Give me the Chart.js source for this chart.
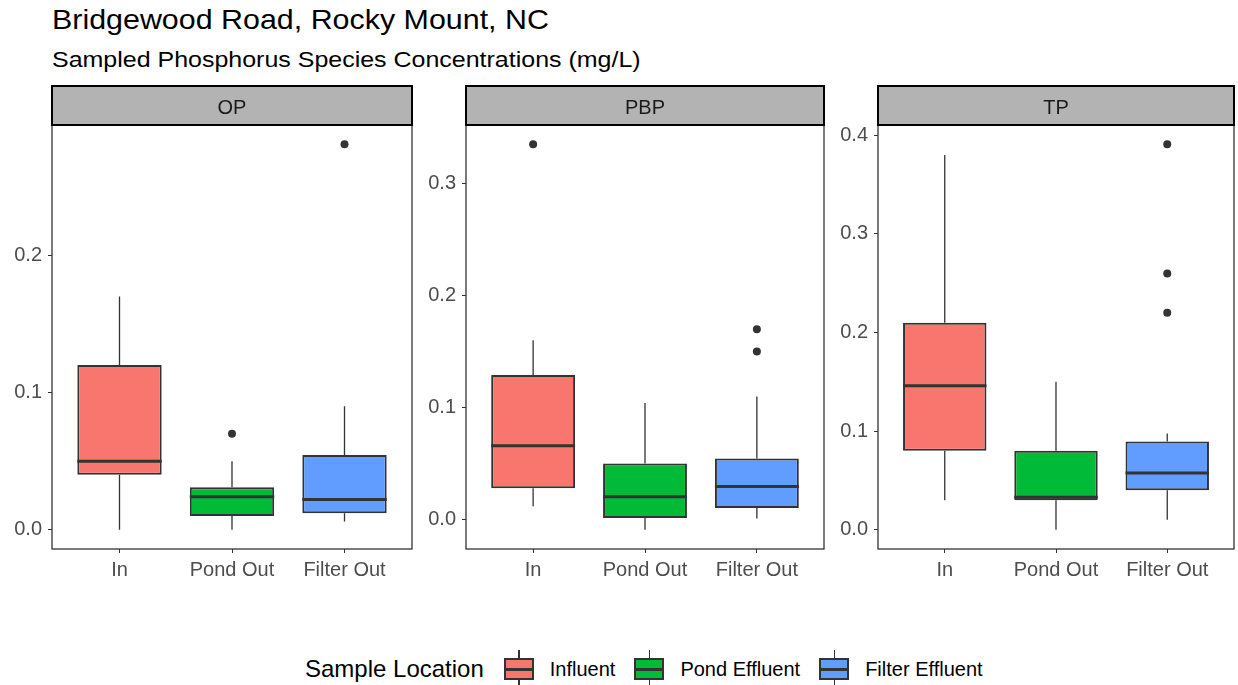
<!DOCTYPE html>
<html>
<head>
<meta charset="utf-8">
<title>Bridgewood Road, Rocky Mount, NC</title>
<script src="https://cdn.jsdelivr.net/npm/chart.js@4.4.1/dist/chart.umd.min.js"></script>
<style>
    body { margin: 0; width: 1238px; height: 685px; background: #fff; position: relative; overflow: hidden;
           font-family: "Liberation Sans", Arial, sans-serif; }
    .txt { position: absolute; line-height: 1; white-space: nowrap; color: #000; transform-origin: left top; }
    #title { left: 52px; top: 5.6px; font-size: 28px; transform: scaleX(1.086); }
    #subtitle { left: 52px; top: 49.3px; font-size: 22.5px; transform: scaleX(1.11); }
    canvas { position: absolute; top: 85px; }
    #legend { position: absolute; left: 305px; top: 650px; height: 38px; display: flex; align-items: center;
              white-space: nowrap; line-height: 1; color: #000; }
    .lg-title { font-size: 24px; margin-right: 20px; }
    .lg-key { position: relative; width: 30px; height: 38px; margin-right: 16px; }
    .lg-key .whisker { position: absolute; left: 14.5px; top: 0; width: 1.3px; height: 38px; background: #333; }
    .lg-key .box { position: absolute; left: 0; top: 8px; width: 30px; height: 22px; box-sizing: border-box; border: 2px solid #333; }
    .lg-key .med { position: absolute; left: 0; top: 17.5px; width: 30px; height: 3px; background: #333; }
    .lg-label { font-size: 20px; margin-right: 19px; }
</style>
</head>
<body>
<div class="txt" id="title">Bridgewood Road, Rocky Mount, NC</div>
<div class="txt" id="subtitle">Sampled Phosphorus Species Concentrations (mg/L)</div>
<canvas id="panel0" width="416" height="505" style="left:0px"></canvas>
<canvas id="panel1" width="414" height="505" style="left:414px"></canvas>
<canvas id="panel2" width="412" height="505" style="left:826px"></canvas>
<div id="legend"><span class="lg-title">Sample Location</span></div>

<script>
// Categories and facets
const categories = ['In', 'Pond Out', 'Filter Out'];
const panelNames = ['OP', 'PBP', 'TP'];
const seriesNames = ['Influent', 'Pond Effluent', 'Filter Effluent'];
const fillColors = ['#F8766D', '#00BA38', '#619CFF'];

// Box statistics, one row per facet (OP, PBP, TP), one value per category
const lowerWhisker = [[0.0, 0.0, 0.006], [0.012, -0.009, 0.001], [0.03, 0.0, 0.01]];
const q1Values     = [[0.04, 0.01, 0.012], [0.028, 0.0015, 0.0105], [0.08, 0.03, 0.04]];
const medianValues = [[0.05, 0.024, 0.022], [0.066, 0.0205, 0.0295], [0.146, 0.033, 0.0575]];
const q3Values     = [[0.12, 0.031, 0.0545], [0.129, 0.05, 0.0545], [0.21, 0.08, 0.0895]];
const upperWhisker = [[0.17, 0.05, 0.09], [0.16, 0.104, 0.11], [0.38, 0.15, 0.0975]];

// Outliers as [category index, value]
const outliers = [
    [[1, 0.07], [2, 0.281]],
    [[0, 0.335], [2, 0.17], [2, 0.15]],
    [[2, 0.391], [2, 0.26], [2, 0.22]]
];

// Y tick values per facet
const yTicks = [[0, 0.1, 0.2], [0, 0.1, 0.2, 0.3], [0, 0.1, 0.2, 0.3, 0.4]];

const fontFamily = '"Liberation Sans", Arial, sans-serif';
const padRight = [3, 3, 1];

// ggplot-style 5% expansion of the data range
function yRange(p) {
    const vals = [...lowerWhisker[p], ...upperWhisker[p], ...outliers[p].map(o => o[1])];
    const lo = Math.min(...vals);
    const hi = Math.max(...vals);
    const pad = (hi - lo) * 0.05;
    return [lo - pad, hi + pad];
}

// Panel border, whiskers, medians and the facet strip
function boxPartsPlugin(p) {
    return {
        id: 'boxParts' + p,
        beforeDatasetsDraw(chart) {
            const { ctx, chartArea: a, scales: { x, y } } = chart;
            ctx.save();
            ctx.strokeStyle = '#333333';
            ctx.lineWidth = 1.3;
            ctx.strokeRect(a.left, a.top, a.right - a.left, a.bottom - a.top);
            ctx.lineWidth = 1.3;
            categories.forEach((c, i) => {
                const px = x.getPixelForValue(i);
                ctx.beginPath();
                ctx.moveTo(px, y.getPixelForValue(q3Values[p][i]));
                ctx.lineTo(px, y.getPixelForValue(upperWhisker[p][i]));
                ctx.moveTo(px, y.getPixelForValue(q1Values[p][i]));
                ctx.lineTo(px, y.getPixelForValue(lowerWhisker[p][i]));
                ctx.stroke();
            });
            ctx.restore();
        },
        afterDatasetsDraw(chart) {
            const { ctx, scales: { y } } = chart;
            const meta = chart.getDatasetMeta(0);
            ctx.save();
            ctx.strokeStyle = '#333333';
            ctx.lineWidth = 3;
            meta.data.forEach((bar, i) => {
                const { x: bx, width } = bar.getProps(['x', 'width'], true);
                const py = y.getPixelForValue(medianValues[p][i]);
                ctx.beginPath();
                ctx.moveTo(bx - width / 2, py);
                ctx.lineTo(bx + width / 2, py);
                ctx.stroke();
            });
            ctx.restore();
        },
        afterDraw(chart) {
            const { ctx, chartArea: a } = chart;
            ctx.save();
            ctx.fillStyle = '#B3B3B3';
            ctx.fillRect(a.left, 1, a.right - a.left, a.top - 1);
            ctx.strokeStyle = '#000000';
            ctx.lineWidth = 2;
            ctx.strokeRect(a.left, 1, a.right - a.left, a.top - 1);
            ctx.fillStyle = '#1A1A1A';
            ctx.font = '20px ' + fontFamily;
            ctx.textAlign = 'center';
            ctx.textBaseline = 'middle';
            ctx.fillText(panelNames[p], (a.left + a.right) / 2, 23);
            ctx.restore();
        }
    };
}

function buildPanel(p) {
    const [yMin, yMax] = yRange(p);
    const boxes = categories.map((c, i) => ({ x: i, y: [q1Values[p][i], q3Values[p][i]] }));
    const points = outliers[p].map(o => ({ x: o[0], y: o[1] }));
    const gridOpts = { drawOnChartArea: false, drawTicks: true, tickLength: 4, color: '#333333', lineWidth: 1, offset: false };

    return new Chart(document.getElementById('panel' + p), {
        type: 'bar',
        data: {
            datasets: [
                {
                    type: 'bar',
                    data: boxes,
                    backgroundColor: fillColors,
                    borderColor: '#333333',
                    borderWidth: 2,
                    borderSkipped: false,
                    barPercentage: 0.75,
                    categoryPercentage: 1
                },
                {
                    type: 'scatter',
                    data: points,
                    pointRadius: 4,
                    backgroundColor: '#333333',
                    pointBackgroundColor: '#333333',
                    pointBorderWidth: 0
                }
            ]
        },
        options: {
            responsive: false,
            animation: false,
            devicePixelRatio: 1,
            layout: { padding: { top: 40, right: padRight[p], bottom: 0, left: 0 } },
            plugins: { legend: { display: false }, tooltip: { enabled: false } },
            scales: {
                x: {
                    type: 'linear',
                    min: -0.6,
                    max: 2.6,
                    offset: false,
                    afterBuildTicks: s => { s.ticks = categories.map((c, i) => ({ value: i })); },
                    afterFit: s => { s.height = 41; },
                    grid: gridOpts,
                    border: { display: false },
                    ticks: {
                        callback: v => categories[v],
                        color: '#4D4D4D',
                        font: { family: fontFamily, size: 20 },
                        padding: 5,
                        maxRotation: 0,
                        autoSkip: false
                    }
                },
                y: {
                    min: yMin,
                    max: yMax,
                    afterBuildTicks: s => { s.ticks = yTicks[p].map(v => ({ value: v })); },
                    afterFit: s => { s.width = 52; },
                    grid: gridOpts,
                    border: { display: false },
                    ticks: {
                        callback: v => v.toFixed(1),
                        color: '#4D4D4D',
                        font: { family: fontFamily, size: 20 },
                        padding: 6
                    }
                }
            }
        },
        plugins: [boxPartsPlugin(p)]
    });
}

panelNames.forEach((name, p) => buildPanel(p));

// Legend
const legend = document.getElementById('legend');
seriesNames.forEach((name, i) => {
    const key = document.createElement('div');
    key.className = 'lg-key';
    key.innerHTML = `<div class="whisker"></div><div class="box" style="background:${fillColors[i]}"></div><div class="med"></div>`;
    const label = document.createElement('span');
    label.className = 'lg-label';
    label.textContent = name;
    legend.appendChild(key);
    legend.appendChild(label);
});
</script>
</body>
</html>
